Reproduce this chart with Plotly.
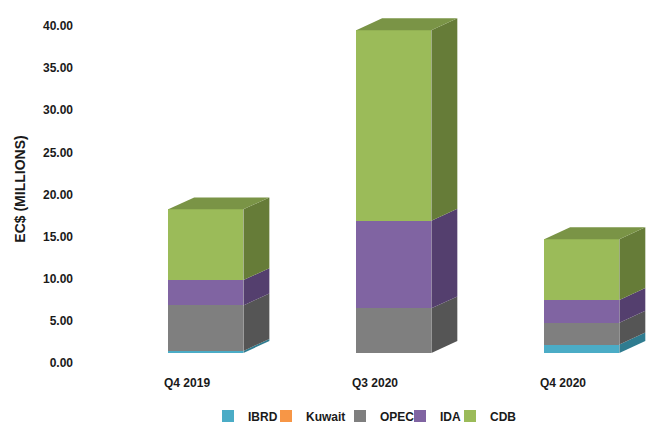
import plotly.graph_objects as go

categories = ["Q4 2019", "Q3 2020", "Q4 2020"]
series_names = ["IBRD", "Kuwait", "OPEC", "IDA", "CDB"]
ibrd = [0.25, 0.0, 1.0]
kuwait = [0.0, 0.0, 0.0]
opec = [5.4, 5.3, 2.6]
ida = [3.0, 10.4, 2.7]
cdb = [8.4, 22.6, 7.2]
y_ticks = [0, 5, 10, 15, 20, 25, 30, 35, 40]

values = [ibrd, kuwait, opec, ida, cdb]
front_colors = ["#4BACC6", "#F79646", "#7F7F7F", "#8064A2", "#9BBB59"]
side_colors = ["#2F7C90", "#B5692B", "#555555", "#543F6E", "#667C38"]
top_colors = ["#3C93AA", "#D27F3A", "#6A6A6A", "#6A5288", "#7A9446"]

# legend item positions (px from left of page)
legend_px = [230, 288, 362, 422, 472]

bar_offset = -0.10
bar_width = 0.40
depth_dx = 0.138
depth_dy = 1.42

xs = list(range(len(categories)))
fig = go.Figure()
legend_keys = ["legend"] + ["legend%d" % (k + 2) for k in range(len(series_names) - 1)]

# front faces (stacked bars)
for name, vals, col, lk in zip(series_names, values, front_colors, legend_keys):
    fig.add_trace(go.Bar(
        x=xs, y=vals, name=name, marker=dict(color=col, line=dict(width=0)),
        offset=bar_offset, width=bar_width, yaxis="y2", hoverinfo="skip",
        legend=lk))

# side faces and tops, derived from the data
for i in xs:
    base = 0.0
    xr = i + bar_offset + bar_width
    xl = i + bar_offset
    top_idx = None
    for s, vals in enumerate(values):
        v = vals[i]
        if v <= 0:
            continue
        y0, y1 = base, base + v
        fig.add_trace(go.Scatter(
            x=[xr, xr + depth_dx, xr + depth_dx, xr, xr],
            y=[y0, y0 + depth_dy, y1 + depth_dy, y1, y0],
            fill="toself", fillcolor=side_colors[s], mode="lines",
            line=dict(width=0, color=side_colors[s]), yaxis="y2",
            showlegend=False, hoverinfo="skip"))
        base = y1
        top_idx = s
    if top_idx is not None:
        fig.add_trace(go.Scatter(
            x=[xl, xr, xr + depth_dx, xl + depth_dx, xl],
            y=[base, base, base + depth_dy, base + depth_dy, base],
            fill="toself", fillcolor=top_colors[top_idx], mode="lines",
            line=dict(width=0, color=top_colors[top_idx]), yaxis="y2",
            showlegend=False, hoverinfo="skip"))

# invisible trace to anchor the labelled value axis
fig.add_trace(go.Scatter(x=[xs[0]], y=[0], mode="markers",
                         marker=dict(opacity=0), showlegend=False,
                         hoverinfo="skip", yaxis="y"))

font_family = "Liberation Sans, Arial, sans-serif"
bold = dict(family=font_family, size=12, color="#1a1a1a", weight="bold")
W, H = 647, 423
legends = {}
for lk, px in zip(legend_keys, legend_px):
    legends[lk] = dict(orientation="h", xref="container", x=(px - 22) / W,
                       xanchor="left", yref="container", y=1 - 416 / H,
                       yanchor="middle", font=bold, bgcolor="rgba(0,0,0,0)",
                       borderwidth=0)

fig.update_layout(
    width=W, height=H,
    margin=dict(l=78, r=0, t=10, b=55, autoexpand=False),
    paper_bgcolor="white", plot_bgcolor="white",
    barmode="stack",
    font=dict(family=font_family, size=12, color="#1a1a1a"),
    xaxis=dict(range=[-0.58, 2.447], tickvals=xs, ticktext=categories,
               showgrid=False, zeroline=False, showline=False, ticks="",
               tickfont=bold, ticklabelstandoff=6),
    yaxis=dict(range=[-0.59, 41.9], tickvals=y_ticks, tickformat=".2f",
               showgrid=False, zeroline=False, showline=False, ticks="",
               title=dict(text="EC$ (MILLIONS)", standoff=14,
                          font=dict(family=font_family, size=14,
                                    color="#1a1a1a", weight="bold")),
               tickfont=bold, ticklabelstandoff=4),
    yaxis2=dict(range=[-1.78, 40.71], overlaying="y", visible=False),
    showlegend=True,
    **legends,
)

fig.write_html("out.html")
